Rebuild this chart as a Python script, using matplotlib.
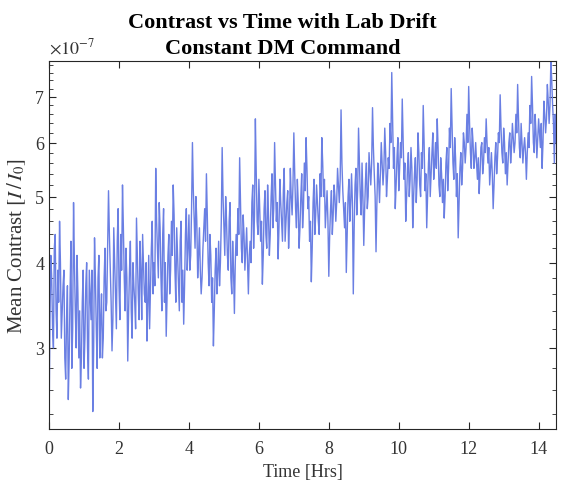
import numpy as np
import matplotlib
matplotlib.use('Agg')
import matplotlib.pyplot as plt
from matplotlib.ticker import FixedLocator, NullFormatter

# mean contrast, in units of 1e-7, every 0.05 hr
contrast_e7 = [
    # 0 - 1 hr
    2.3, 4.1, 3.2, 4.2, 3.4, 3.9, 4.6, 3.1, 3.7, 2.9, 3.3, 2.52, 3.6, 2.8, 4.9, 3.4, 4.1, 2.9, 2.62, 3.5,
    # 1 - 2
    2.8, 3.7, 3.0, 3.9, 3.3, 2.42, 4.35, 3.2, 3.8, 2.9, 3.6, 3.1, 4.2, 3.5, 5.1, 3.9, 2.97, 4.5, 3.6, 4.3,
    # 2 - 3
    3.7, 4.4, 5.2, 3.8, 4.2, 2.87, 3.9, 3.4, 4.0, 3.5, 4.65, 3.6, 4.3, 3.3, 4.0, 3.5, 3.07, 4.1, 3.7, 4.6,
    # 3 - 4
    4.0, 5.5, 4.2, 4.9, 3.8, 4.4, 3.5, 3.12, 4.1, 3.6, 4.6, 5.2, 3.9, 4.5, 3.7, 4.3, 3.5, 3.25, 4.4, 3.9,
    # 4 - 5
    4.7, 4.1, 6.0, 4.6, 5.0, 3.8, 4.5, 3.6, 4.2, 4.8, 5.4, 4.0, 4.4, 3.5, 3.02, 3.9, 3.6, 4.3, 4.0, 5.9,
    # 5 - 6
    4.5, 5.0, 4.1, 4.6, 3.8, 4.3, 3.37, 4.4, 4.8, 5.7, 4.2, 4.7, 3.9, 4.5, 3.6, 4.3, 4.9, 4.2, 6.5, 4.6,
    # 6 - 7
    5.3, 4.3, 3.72, 4.8, 4.4, 5.2, 4.1, 5.0, 4.5, 6.0, 4.6, 4.05, 5.3, 4.6, 5.1, 4.3, 4.9, 4.2, 5.5, 4.7,
    # 7 - 8
    6.2, 4.8, 5.3, 4.2, 5.0, 4.5, 5.6, 6.1, 4.8, 4.3, 3.75, 4.9, 4.4, 5.2, 4.6, 5.4, 6.1, 5.0, 4.5, 5.1,
    # 8 - 9
    3.82, 4.8, 4.4, 5.2, 4.6, 5.5, 4.9, 6.7, 5.1, 4.5, 3.87, 5.0, 4.6, 5.4, 3.6, 5.2, 4.7, 6.3, 5.0, 5.6,
    # 9 - 10
    4.24, 5.3, 4.8, 5.8, 5.2, 6.75, 5.4, 4.15, 5.6, 4.9, 6.0, 5.2, 6.3, 5.0, 5.7, 6.4, 7.6, 5.5, 4.8, 5.7,
    # 10 - 11
    5.1, 6.0, 6.95, 5.3, 4.6, 5.5, 5.0, 5.9, 4.5, 5.4, 4.9, 6.2, 5.2, 5.8, 6.8, 5.1, 4.5, 5.6, 5.0, 5.8,
    # 11 - 12
    5.3, 6.0, 6.5, 5.2, 5.7, 4.9, 4.65, 5.6, 5.1, 6.3, 7.2, 5.6, 6.1, 5.0, 4.35, 5.5, 5.2, 6.2, 5.6, 6.6,
    # 12 - 13
    7.25, 5.8, 6.3, 5.5, 6.0, 5.3, 5.05, 5.9, 5.4, 6.1, 6.5, 5.6, 5.2, 5.8, 4.8, 5.7, 5.4, 6.2, 7.05, 5.8,
    # 13 - 14
    6.3, 5.4, 5.2, 6.0, 5.6, 6.4, 5.8, 6.6, 7.3, 5.9, 6.4, 5.6, 6.1, 5.3, 6.2, 6.8, 7.5, 6.0, 6.6, 5.7,
    # 14 - 14.5
    6.5, 5.9, 5.5, 6.9, 6.2, 7.3, 6.4, 7.9, 6.8, 5.6, 6.0,
]

# the samples in between (at 0.025, 0.075, ... hr)
contrast_mid_e7 = [
    3.3, 3.8, 3.0, 4.4, 3.1, 3.5, 4.0, 3.4, 3.9, 2.7, 3.7, 2.9, 4.3, 3.2, 4.0, 3.0, 3.6, 3.4, 2.9, 3.9,
    3.1, 4.0, 2.7, 3.6, 3.9, 3.0, 3.8, 2.8, 4.1, 3.3, 2.9, 3.8, 3.4, 4.2, 4.4, 3.5, 3.3, 4.0, 3.2, 4.8,
    3.3, 3.9, 4.5, 3.4, 3.8, 3.4, 4.3, 3.1, 3.7, 3.2, 4.1, 3.3, 3.9, 4.4, 3.6, 4.0, 3.5, 3.2, 4.2, 3.6,
    3.7, 4.6, 3.8, 4.5, 3.4, 4.8, 4.0, 3.6, 4.4, 3.9, 4.1, 4.7, 3.5, 4.1, 3.4, 4.6, 3.9, 3.7, 4.8, 4.2,
    3.9, 4.8, 5.1, 4.2, 4.6, 4.1, 3.9, 3.8, 4.5, 4.3, 4.7, 3.7, 4.1, 3.8, 3.4, 4.2, 3.9, 3.7, 4.6, 5.0,
    4.1, 4.6, 3.9, 4.9, 3.6, 3.9, 4.0, 4.1, 4.4, 4.9, 4.0, 4.4, 4.2, 4.0, 4.1, 4.0, 5.2, 4.7, 5.4, 4.4,
    4.8, 4.6, 4.1, 5.1, 4.2, 4.7, 4.4, 5.4, 4.8, 5.2, 4.9, 4.5, 4.9, 4.3, 5.5, 4.6, 5.1, 4.6, 5.0, 5.2,
    5.4, 4.5, 4.9, 4.5, 5.4, 4.8, 5.1, 5.5, 5.0, 4.6, 4.2, 5.3, 4.7, 4.9, 4.4, 5.0, 5.6, 5.3, 4.8, 4.6,
    4.4, 5.1, 4.7, 5.0, 4.9, 5.2, 5.3, 5.6, 4.8, 4.9, 4.4, 5.3, 4.9, 4.9, 4.5, 5.5, 5.1, 5.6, 4.7, 5.0,
    4.8, 5.6, 5.0, 5.5, 5.6, 5.9, 5.0, 4.9, 5.3, 5.4, 5.6, 5.5, 5.8, 5.3, 5.5, 6.0, 6.4, 5.9, 5.2, 6.1,
    5.5, 5.7, 6.1, 5.6, 5.0, 5.8, 5.3, 5.5, 5.0, 5.7, 5.3, 5.8, 5.0, 5.5, 6.0, 5.4, 5.0, 5.9, 5.4, 6.2,
    5.6, 5.5, 5.9, 5.0, 5.4, 5.3, 5.0, 5.9, 5.5, 5.9, 6.3, 5.3, 5.7, 5.4, 4.9, 5.8, 5.5, 6.0, 5.9, 6.0,
    6.4, 5.5, 6.0, 5.7, 5.6, 5.7, 5.4, 6.0, 5.6, 5.8, 6.0, 5.9, 5.5, 5.4, 5.2, 6.0, 5.7, 6.0, 6.3, 5.6,
    6.0, 5.8, 5.6, 6.2, 5.9, 6.1, 6.0, 6.2, 6.5, 5.7, 6.0, 5.9, 5.8, 5.8, 5.9, 6.4, 6.8, 5.8, 6.2, 6.1,
    6.2, 6.4, 6.0, 6.6, 6.5, 6.9, 6.8, 7.4, 6.4, 6.6,
]

contrast = np.empty(len(contrast_e7) + len(contrast_mid_e7))
contrast[0::2] = contrast_e7
contrast[1::2] = contrast_mid_e7
time_hrs = np.linspace(0, 14.5, len(contrast))

x_ticks = [0, 2, 4, 6, 8, 10, 12, 14]
y_ticks = [3, 4, 5, 6, 7]
y_minor = np.arange(2.4, 7.81, 0.2)

plt.rcParams['font.family'] = 'Liberation Serif'
plt.rcParams['mathtext.fontset'] = 'stix'

fig = plt.figure(figsize=(5.64, 4.85), dpi=100)
ax = fig.add_axes([0.087, 0.113, 0.899, 0.759])

ax.plot(time_hrs, contrast, color='#6a7fe3', linewidth=1.0)

ax.set_yscale('log')
ax.set_xlim(0, 14.5)
ax.set_ylim(2.28, 7.9)
ax.set_xticks(x_ticks)
ax.yaxis.set_major_locator(FixedLocator(y_ticks))
ax.yaxis.set_minor_locator(FixedLocator(y_minor))
ax.yaxis.set_minor_formatter(NullFormatter())
ax.set_yticklabels([str(v) for v in y_ticks])

ax.tick_params(which='both', direction='in', top=True, right=True,
               colors='#262626', labelsize=13, labelcolor='#333333')
ax.tick_params(which='major', length=5, width=0.8)
ax.tick_params(which='minor', length=3, width=0.6)
ax.tick_params(axis='x', pad=8)
for s in ax.spines.values():
    s.set_color('#262626')
    s.set_linewidth(0.8)

ax.set_xlabel('Time [Hrs]', fontsize=13, color='#333333', labelpad=4)
ax.set_ylabel(r'Mean Contrast $[I\,/\,I_0]$', fontsize=15, color='#333333', labelpad=5)
ax.set_title('Contrast vs Time with Lab Drift\nConstant DM Command', x=0.46,
             fontsize=16, fontweight='bold', pad=6, linespacing=1.4)
ax.text(0.0, 1.012, r'$\times10^{-7}$', transform=ax.transAxes, fontsize=13,
        color='#333333', ha='left', va='bottom')

fig.savefig('out.png', dpi=100)
